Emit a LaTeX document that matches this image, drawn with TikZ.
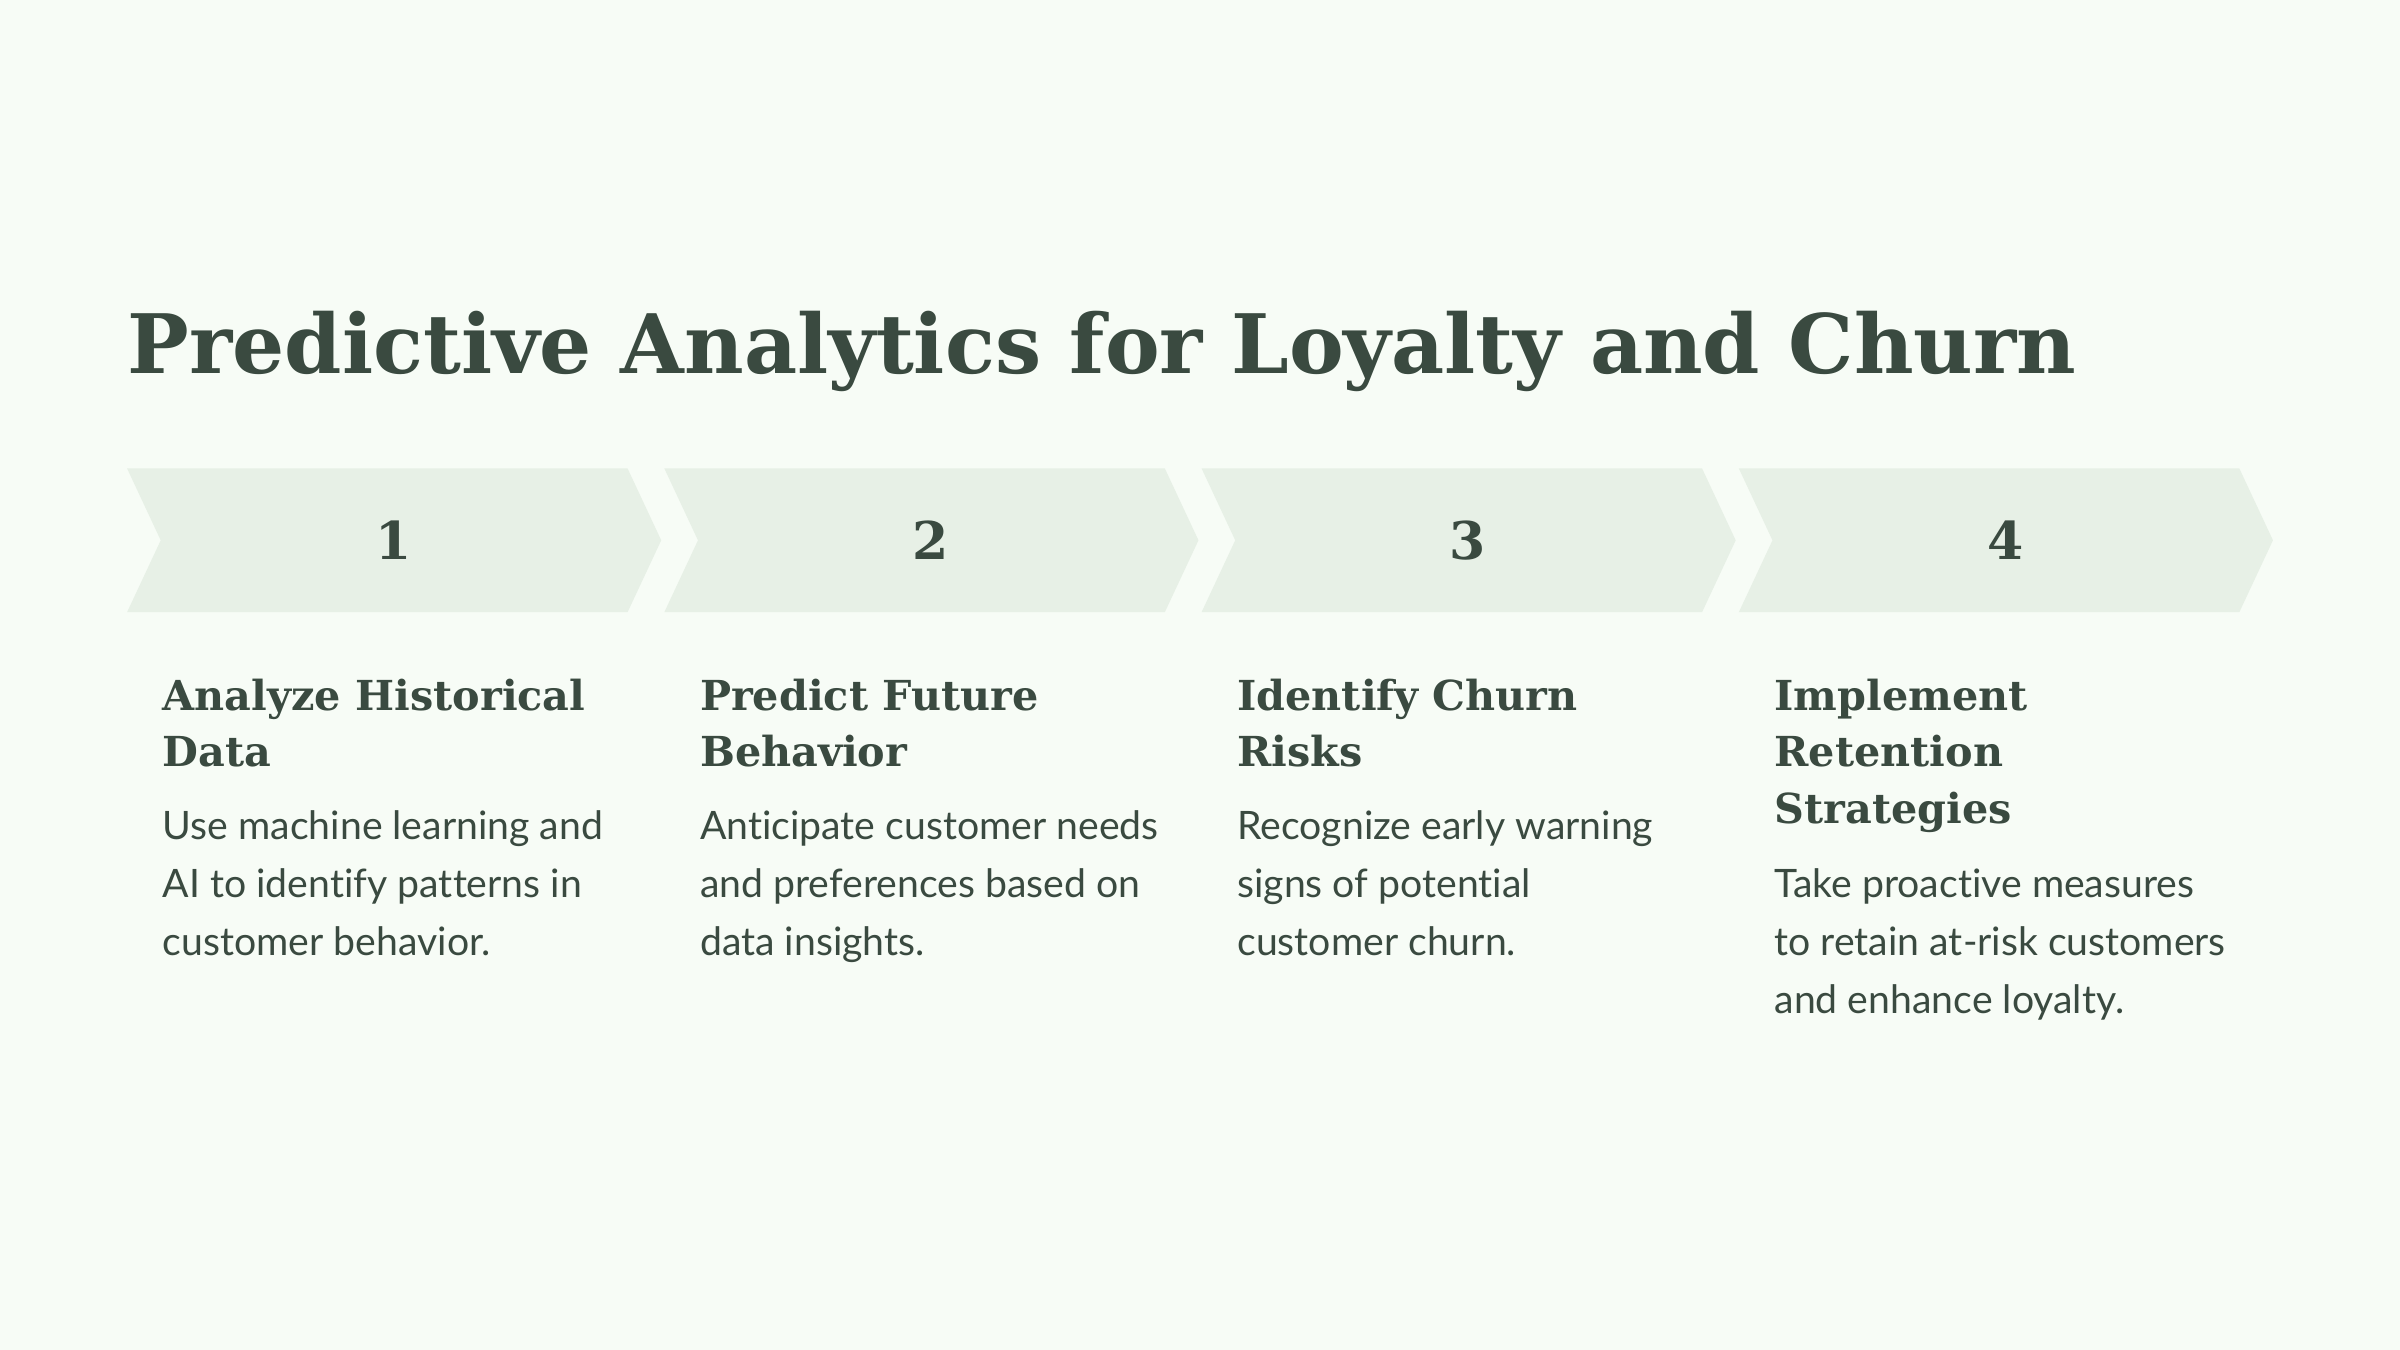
\documentclass[tikz,border=0pt]{standalone}
\usepackage{fontspec}
\setmainfont{Lato}[Ligatures={NoCommon}]
\newfontfamily\headfont{DejaVu Serif}[BoldFont={DejaVu Serif Bold}]
\definecolor{bg}{HTML}{F7FCF6}
\definecolor{chev}{HTML}{E7F0E6}
\definecolor{ink}{HTML}{3A4A40}
\begin{document}
\begin{tikzpicture}[x=0.5pt,y=-0.5pt,
  chevshape/.style={fill=chev,draw=none},
  numtxt/.style={text=ink,font=\headfont\bfseries\fontsize{17}{20}\selectfont},
  headtxt/.style={anchor=north west,inner sep=0pt,align=left,text=ink,font=\headfont\bfseries\fontsize{13.5}{18.5}\selectfont},
  bodytxt/.style={anchor=north west,inner sep=0pt,align=left,text=ink,font=\fontsize{12.8}{19}\selectfont}]
\fill[bg] (0,0) rectangle (1568,882);
\useasboundingbox (0,0) rectangle (1568,882);
\node[anchor=base west,inner sep=0pt,text=ink,font=\headfont\bfseries\fontsize{26.8}{32}\selectfont] (title) at (83,244) {Predictive Analytics for Loyalty and Churn};
\foreach \i/\n in {0/1,1/2,2/3,3/4}{
  \fill[chevshape] ({83+351*\i},306) -- ({410+351*\i},306) -- ({432+351*\i},353) -- ({410+351*\i},400) -- ({83+351*\i},400) -- ({105+351*\i},353) -- cycle;
  \node[numtxt] (n\n) at ({257+351*\i},353) {\n};
}
\node[headtxt] (h1) at (106,443) {Analyze Historical\\Data};
\node[headtxt] (h2) at (457,443) {Predict Future\\Behavior};
\node[headtxt] (h3) at (808,443) {Identify Churn\\Risks};
\node[headtxt] (h4) at (1159,443) {Implement\\Retention\\Strategies};
\node[bodytxt] (b1) at (106,529) {Use machine learning and\\AI to identify patterns in\\customer behavior.};
\node[bodytxt] (b2) at (457,529) {Anticipate customer needs\\and preferences based on\\data insights.};
\node[bodytxt] (b3) at (808,529) {Recognize early warning\\signs of potential\\customer churn.};
\node[bodytxt] (b4) at (1159,567) {Take proactive measures\\to retain at-risk customers\\and enhance loyalty.};
\end{tikzpicture}
\end{document}
